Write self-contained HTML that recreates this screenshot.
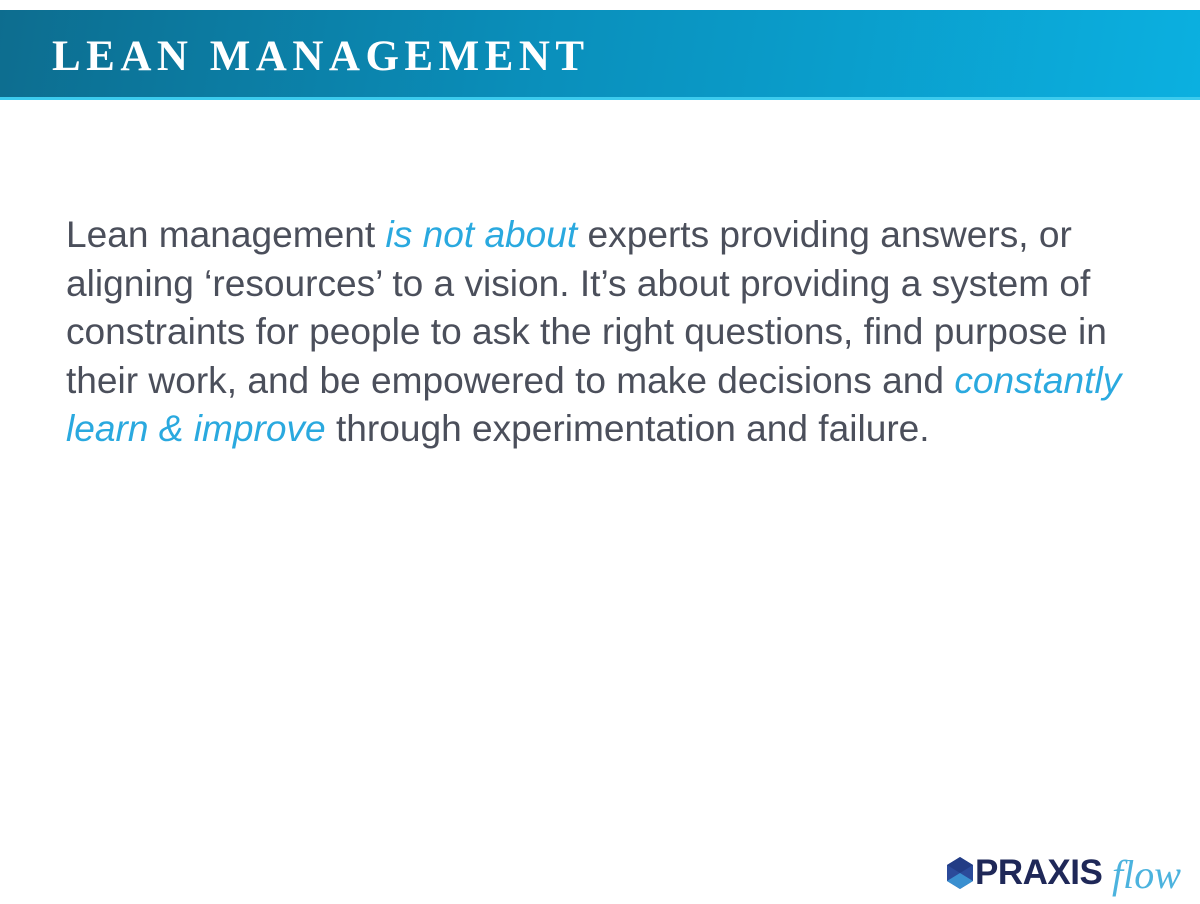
<!DOCTYPE html>
<html><head><meta charset="utf-8"><style>
html,body{margin:0;padding:0;background:#fff;width:1200px;height:904px;overflow:hidden;position:relative;font-family:"Liberation Sans",sans-serif}
#hdr{position:absolute;left:0;top:10px;width:1200px;height:90px;background:linear-gradient(100deg,#0d6d8f 0%,#0a8fbb 45%,#0bb0e0 100%)}
#hdr::after{content:"";position:absolute;left:0;bottom:0;width:100%;height:3px;background:#3ccbee}
#title{position:absolute;left:52px;top:25px;font-family:"Liberation Serif",serif;font-weight:bold;font-size:43px;letter-spacing:5.5px;color:#fff;line-height:1}
#body{position:absolute;left:66px;top:210px;width:1080px;font-size:37.1px;line-height:48.5px;color:#4b4f5b}
#body i{color:#2aa9df}
#logo{position:absolute;left:946px;top:852px;height:40px;width:250px}
#px{position:absolute;left:29px;top:1px;font-weight:bold;font-size:35px;color:#1f2858;letter-spacing:-0.5px}
#fl{position:absolute;left:166px;top:-1px;font-family:"Liberation Serif",serif;font-style:italic;font-size:40px;color:#4cb3de}
</style></head><body>
<div id="hdr"><div id="title">LEAN MANAGEMENT</div></div>
<div id="body">Lean management <i>is not about</i> experts providing answers, or aligning ‘resources’ to a vision. It’s about providing a system of constraints for people to ask the right questions, find purpose in their work, and be empowered to make decisions and <i>constantly learn &amp; improve</i> through experimentation and failure.</div>
<div id="logo">
<svg width="28" height="32" viewBox="0 0 28 32" style="position:absolute;left:0;top:5px"><polygon points="14,0 27,8 27,24 14,32 1,24 1,8" fill="#2b4a9a"/><polygon points="14,16 27,24 14,32 1,24" fill="#3a8fd0"/><polygon points="14,0 27,8 14,16 1,8" fill="#223c85"/></svg>
<span id="px">PRAXIS</span><span id="fl">flow</span>
</div>
</body></html>
